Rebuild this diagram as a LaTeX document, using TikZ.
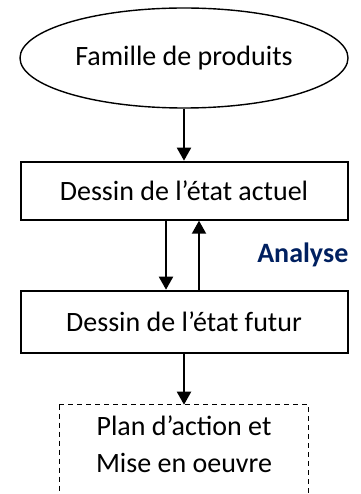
\documentclass[tikz,border=0pt]{standalone}
\usepackage{fontspec}
\setmainfont{Carlito}
\usepackage{xcolor}
\usepackage{tikz}
\usetikzlibrary{arrows.meta, positioning, shapes.geometric, calc}
\definecolor{analyseblue}{RGB}{0,32,96}

\begin{document}
\begin{tikzpicture}[
        node distance=52pt,
        every node/.style={font=\fontsize{28}{34}\selectfont},
        stage/.style={draw, line width=2pt, minimum width=327pt, minimum height=60pt},
        arrow/.style={-{Triangle[length=13pt, width=14pt]}, line width=2pt}
    ]
        \useasboundingbox (0,0) rectangle (360pt,-494pt);

        \node[ellipse, draw, line width=1.4pt, minimum width=328pt, minimum height=100pt] (famille) at (184pt,-58pt) {Famille de produits};
        \node[stage, minimum height=58pt, below=52pt of famille] (actuel) {Dessin de l’état actuel};
        \node[stage, minimum height=62pt, below=69pt of actuel] (futur) {Dessin de l’état futur};
        \node[minimum width=249pt, minimum height=78pt, align=center, font=\fontsize{28}{35}\selectfont, below=51pt of futur] (plan) {Plan d’action et\\[2pt]Mise en oeuvre};
        % dashed frame runs on below the page edge
        \draw[dash pattern=on 5pt off 4pt, line width=1.4pt] (plan.north west) rectangle ([yshift=-30pt]plan.south east);

        \coordinate (mid) at ($(actuel.south)!0.5!(futur.north)$);
        \node[anchor=east, inner sep=0pt, text=analyseblue, font=\fontsize{28}{34}\selectfont\bfseries] (analyse) at (actuel.east |- mid) {Analyse};

        \draw[arrow] (famille) -- (actuel);
        \draw[arrow] ([xshift=-18pt]actuel.south) -- ([xshift=-18pt]futur.north);
        \draw[arrow] ([xshift=15pt]futur.north) -- ([xshift=15pt]actuel.south);
        \draw[arrow] (futur) -- (plan);
    \end{tikzpicture}
\end{document}
